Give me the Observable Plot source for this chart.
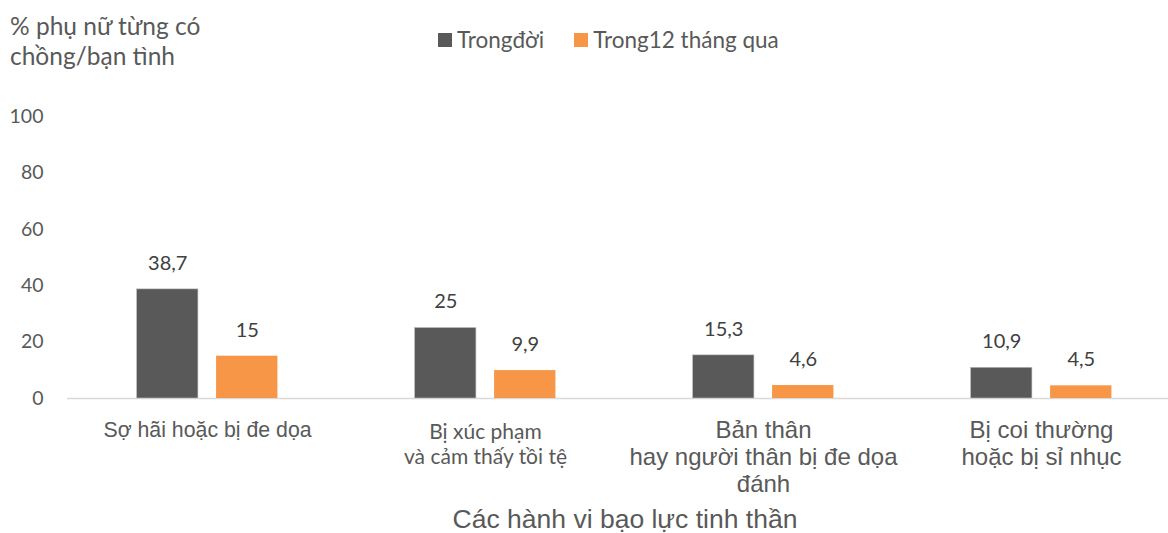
<!DOCTYPE html>
<html>
<head>
<meta charset="utf-8">
<script src="https://cdn.jsdelivr.net/npm/d3@7"></script>
<script src="https://cdn.jsdelivr.net/npm/@observablehq/plot@0.6"></script>
<style>
  body { margin: 0; background: #fff; }
  #wrap { position: relative; width: 1168px; height: 533px; overflow: hidden; font-family: Lato, "Open Sans", sans-serif; color: #595959; }
  .abs { position: absolute; white-space: nowrap; }
  #ylabel { left: 10px; top: 11px; font-size: 24.5px; line-height: 30px; }
  #legend { left: 438px; top: 26px; font-size: 22.5px; display: flex; align-items: center; }
  #legend .sw { width: 14px; height: 14px; display: inline-block; margin-right: 5px; }
  #legend .item { display: flex; align-items: center; margin-right: 30px; }
  #xtitle { left: 625px; top: 506px; transform: translateX(-50%); font-family: "Liberation Sans", Arial, sans-serif; font-size: 26.5px; line-height: 26px; }
</style>
</head>
<body>
<div id="wrap">
  <div id="chart"></div>
  <div id="ylabel" class="abs">% phụ nữ từng có<br>chồng/bạn tình</div>
  <div id="legend" class="abs"></div>
  <div id="xtitle" class="abs">Các hành vi bạo lực tinh thần</div>
</div>
<script>
const categories = [
  "Sợ hãi hoặc bị đe dọa",
  "Bị xúc phạm\nvà cảm thấy tồi tệ",
  "Bản thân\nhay người thân bị đe dọa\nđánh",
  "Bị coi thường\nhoặc bị sỉ nhục"
];
const seriesNames = ["Trongđời", "Trong12 tháng qua"];
const lifetime = [38.7, 25, 15.3, 10.9];
const last12 = [15, 9.9, 4.6, 4.5];
const yTicks = [0, 20, 40, 60, 80, 100];
const colors = ["#595959", "#f79646"];

const dataLife = categories.map((c, i) => ({cat: c, v: lifetime[i]}));
const data12 = categories.map((c, i) => ({cat: c, v: last12[i]}));
const fmt = v => String(v).replace(".", ",");

const W = 1168, H = 533;
const barW = 62, off = 39.75;
const step = 278.67;
const x0 = 66.7;
const inset = (step - barW) / 2;
const arial = "'Liberation Sans', Arial, sans-serif";

const chart = Plot.plot({
  width: W,
  height: H,
  marginLeft: 67,
  marginRight: 0,
  marginTop: 116,
  marginBottom: 135,
  style: {fontFamily: "Lato, 'Open Sans', sans-serif", fontSize: "18px", color: "#595959", background: "transparent"},
  x: {domain: categories, range: [x0, x0 + step * 4], padding: 0},
  y: {domain: [0, 100]},
  marks: [
    Plot.ruleY([0], {stroke: "#d9d9d9", strokeWidth: 1.5}),
    Plot.barY(dataLife, {x: "cat", y: "v", fill: colors[0], stroke: "#bfbfbf", strokeWidth: 0.6, insetLeft: inset, insetRight: inset, dx: -off}),
    Plot.barY(data12, {x: "cat", y: "v", fill: colors[1], insetLeft: inset, insetRight: inset, dx: off}),
    Plot.text(dataLife, {x: "cat", y: "v", text: d => fmt(d.v), dx: -off, dy: -26, fill: "#404040", fontSize: 20}),
    Plot.text(data12, {x: "cat", y: "v", text: d => fmt(d.v), dx: off, dy: -26, fill: "#404040", fontSize: 20}),
    Plot.axisY({ticks: yTicks, tickSize: 0, tickPadding: 24, fontSize: 19.5, fill: "#595959", label: null}),
    Plot.axisX({ticks: [categories[0]], tickSize: 0, tickPadding: 23, fontSize: 21.3, fontFamily: arial, fill: "#595959", label: null}),
    Plot.axisX({ticks: [categories[2], categories[3]], tickSize: 0, tickPadding: 20, fontSize: 24, lineHeight: 1.125, fontFamily: arial, fill: "#595959", label: null}),
    Plot.axisX({ticks: [categories[1]], tickSize: 0, tickPadding: 23, fontSize: 21, lineHeight: 1.19, fontFamily: "Lato, sans-serif", fill: "#595959", label: null})
  ]
});
document.getElementById("chart").appendChild(chart);

const legend = document.getElementById("legend");
seriesNames.forEach((n, i) => {
  const it = document.createElement("span");
  it.className = "item";
  const sw = document.createElement("span");
  sw.className = "sw";
  sw.style.background = colors[i];
  it.appendChild(sw);
  it.appendChild(document.createTextNode(n));
  legend.appendChild(it);
});
</script>
</body>
</html>
